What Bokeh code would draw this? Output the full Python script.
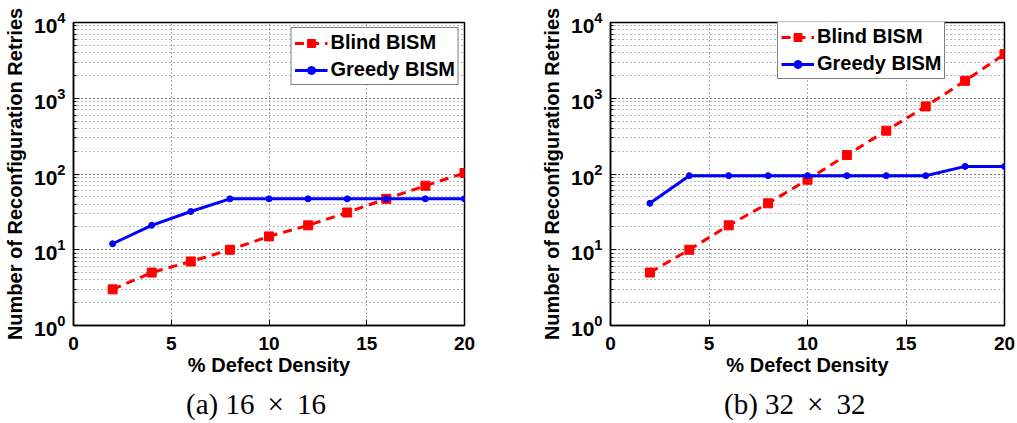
from bokeh.plotting import figure
from bokeh.models import Div, Legend, LegendItem, FixedTicker, Range1d
from bokeh.layouts import row, column
from bokeh.embed import file_html
from bokeh.resources import INLINE

defect_density = [2, 4, 6, 8, 10, 12, 14, 16, 18, 20]
blind_16 = [3, 5, 7, 10, 15, 21, 31, 47, 70, 103]
greedy_16 = [12, 21, 32, 47, 47, 47, 47, 47, 47, 47]
blind_32 = [5, 10, 21, 41, 84, 178, 373, 780, 1700, 3820]
greedy_32 = [41, 95, 95, 95, 95, 95, 95, 95, 126, 126]
x_ticks = [0, 5, 10, 15, 20]
series_names = ["Blind BISM", "Greedy BISM"]
captions = ["(a) 16 \u2009\u00d7\u2009 16", "(b) 32 \u2009\u00d7\u2009 32"]
x_label = "% Defect Density"
y_label = "Number of Reconfiguration Retries"

SANS = "Liberation Sans"
H = 385


def make_plot(blind, greedy, width, mbl, mbr, legend_loc):
    p = figure(width=width, height=H, x_axis_type="linear", y_axis_type="log",
               x_range=Range1d(0, 20), y_range=Range1d(1, 1e4),
               output_backend="svg", toolbar_location=None,
               min_border_left=mbl, min_border_right=mbr,
               min_border_top=22, min_border_bottom=H - 325)
    p.outline_line_color = "black"
    p.outline_line_width = 1.5
    p.outline_line_alpha = 1

    # grids
    p.xgrid.ticker = FixedTicker(ticks=x_ticks)
    p.xgrid.grid_line_color = "#555555"
    p.xgrid.grid_line_dash = "1 3"
    p.xgrid.grid_line_width = 1
    p.ygrid.grid_line_color = "#555555"
    p.ygrid.grid_line_dash = "1 3"
    p.ygrid.minor_grid_line_color = "#777777"
    p.ygrid.minor_grid_line_dash = "1 3"

    # axes
    xa = p.xaxis[0]
    xa.ticker = FixedTicker(ticks=x_ticks)
    xa.axis_label = x_label
    ya = p.yaxis[0]
    ya.axis_label = y_label
    for ax in (xa, ya):
        ax.axis_line_color = "black"
        ax.axis_line_width = 1.5
        ax.major_tick_in = 6
        ax.major_tick_out = 0
        ax.minor_tick_in = 3
        ax.minor_tick_out = 0
        ax.major_label_text_font = SANS
        ax.major_label_text_font_style = "bold"
        ax.major_label_text_color = "black"
        ax.axis_label_text_font = SANS
        ax.axis_label_text_font_style = "bold"
        ax.axis_label_text_font_size = "20px"
        ax.axis_label_text_color = "black"
    xa.major_label_text_font_size = "19px"
    xa.major_label_standoff = 11
    xa.axis_label_standoff = 1
    ya.major_label_text_font_size = "21px"
    ya.major_label_standoff = 8
    ya.axis_label_standoff = 5

    # data
    bl = p.line(defect_density, blind, line_color="#ff0000", line_width=3, line_dash="9 6")
    bs = p.scatter(defect_density, blind, marker="square", size=9,
                   fill_color="#ff0000", line_color="#ff0000")
    gl = p.line(defect_density, greedy, line_color="#0000ff", line_width=3)
    gs = p.scatter(defect_density, greedy, marker="circle", size=6,
                   fill_color="#0000ff", line_color="#0000ff")

    legend = Legend(items=[LegendItem(label=series_names[0], renderers=[bl, bs]),
                           LegendItem(label=series_names[1], renderers=[gl, gs])],
                    location=legend_loc, border_line_color="black", border_line_width=1.5,
                    label_text_font=SANS, label_text_font_style="bold",
                    label_text_font_size="20px", label_text_color="black",
                    glyph_width=33, glyph_height=20,
                    spacing=4, padding=3, margin=5, label_standoff=3,
                    label_height=20, background_fill_alpha=1)
    p.add_layout(legend)
    return p


def make_caption(text, width, pad_left):
    return Div(text=text, width=width, height=38, margin=0,
               styles={"font-family": "Liberation Serif", "font-size": "29px",
                       "line-height": "38px", "padding-left": f"{pad_left}px",
                       "color": "black", "white-space": "nowrap"})


p1 = make_plot(blind_16, greedy_16, 495, 70, 31, "top_right")
p2 = make_plot(blind_32, greedy_32, 521, 115, 12, (167, 246))
c1 = make_caption(captions[0], 495, 186)
c2 = make_caption(captions[1], 521, 229)
layout = column(row(p1, p2, spacing=0), row(c1, c2, spacing=0), spacing=0)

open("out.html", "w").write(file_html(layout, INLINE))
